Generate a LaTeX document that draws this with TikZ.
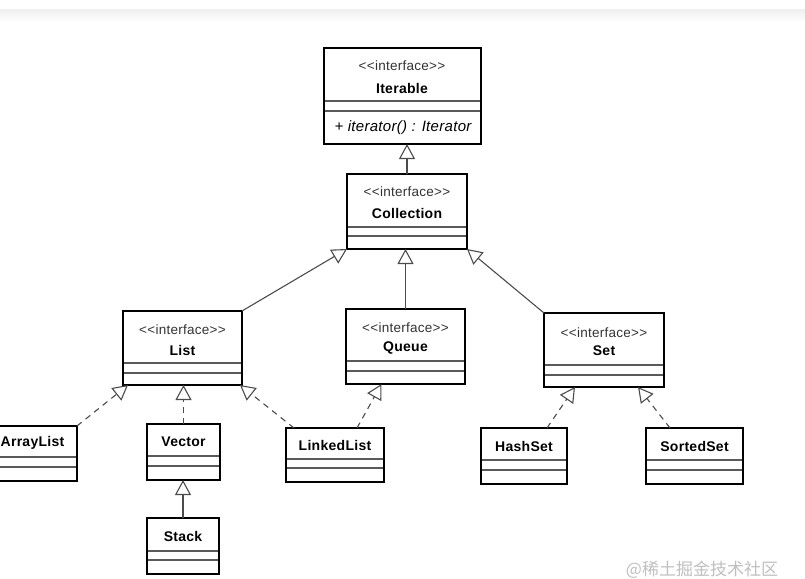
\documentclass[tikz,border=0pt]{standalone}
\usepackage{fontspec}
\setmainfont{Liberation Sans}
\newfontfamily\umlfont[LetterSpace=2]{Liberation Sans}
\newfontfamily\cjkfont{Noto Sans CJK SC}
\usetikzlibrary{arrows.meta}

\newcommand\umlclass[7]{%
  \draw[divline] (#2,#6) -- (#4,#6) (#2,#7) -- (#4,#7);
  \node[classbox, minimum width={#4-#2}, minimum height={#5-#3}] (#1) at ({(#2+#4)/2},{(#3+#5)/2}) {};
}

\begin{document}
\begin{tikzpicture}[x=1pt,y=-1pt,
  classbox/.style={draw=black, line width=2.4pt, inner sep=0pt, outer sep=0pt},
  divline/.style={draw=black!65, line width=1.3pt},
  stereo/.style={inner sep=0pt, text=black!80, font=\umlfont\fontsize{13.5}{15}\selectfont},
  cname/.style={inner sep=0pt, text=black, font=\umlfont\bfseries\fontsize{14}{16}\selectfont},
  method/.style={inner sep=0pt, text=black, font=\umlfont\itshape\fontsize{15}{17}\selectfont},
  gen/.style={draw=black!70, line width=1.1pt, -{Triangle[open, length=15pt, width=16pt, line width=1.1pt]}},
  real/.style={gen, dash pattern=on 6pt off 5pt}
]
\useasboundingbox (0,0) rectangle (805,578);
\clip (0,0) rectangle (805,578);
\fill[white] (0,0) rectangle (805,578);
\shade[top color=black!6, bottom color=white] (0,10) rectangle (805,22);

% classes: name, left, top, right, bottom, divider1, divider2
\umlclass{iter}{324}{48}{481}{144}{101}{111}
\umlclass{coll}{347}{174}{467}{249}{227}{236}
\umlclass{list}{123}{311}{242}{385}{363}{373}
\umlclass{queue}{346}{309}{465}{384}{361}{371}
\umlclass{set}{544}{313}{664}{387}{365}{375}
\umlclass{arr}{-12}{426}{77}{481}{457}{467}
\umlclass{vec}{147}{424}{220}{480}{456}{466}
\umlclass{stack}{147}{518}{219}{574}{551}{560}
\umlclass{ll}{286}{428}{384}{482}{459}{468}
\umlclass{hash}{481}{428}{567}{484}{460}{470}
\umlclass{sorted}{646}{428}{743}{484}{460}{470}

% texts
\node[stereo] (iter-s) at (402,66) {<<interface>>};
\node[cname] (iter-n) at (402,88) {Iterable};
\node[method] (iter-m) at (403,128) {+ iterator() : Iterator};
\node[stereo] (coll-s) at (407,192) {<<interface>>};
\node[cname] (coll-n) at (407,213) {Collection};
\node[stereo] (list-s) at (182.5,330) {<<interface>>};
\node[cname] (list-n) at (182.5,350) {List};
\node[stereo] (queue-s) at (405.5,328) {<<interface>>};
\node[cname] (queue-n) at (405.5,348) {Queue};
\node[stereo] (set-s) at (604,333) {<<interface>>};
\node[cname] (set-n) at (604,351) {Set};
\node[cname] (arr-n) at (32.5,443) {ArrayList};
\node[cname] (vec-n) at (183.5,442) {Vector};
\node[cname] (stack-n) at (183,536) {Stack};
\node[cname] (ll-n) at (335,445) {LinkedList};
\node[cname] (hash-n) at (524,446) {HashSet};
\node[cname] (sorted-n) at (694.5,446) {SortedSet};

% connectors
\draw[gen] (coll.north) -- (coll.north |- iter.south);
\draw[gen] (list.north east) -- (coll.south west);
\draw[gen] (queue.north) -- (queue.north |- coll.south);
\draw[gen] (set.north west) -- (coll.south east);
\draw[real] (arr.north east) -- ([xshift=5pt]list.south west);
\draw[real] (vec.north) -- (vec.north |- list.south);
\draw[real] ([xshift=8pt]ll.north west) -- ([xshift=-2pt]list.south east);
\draw[real] ([xshift=22pt]ll.north) -- ([xshift=-24pt]queue.south);
\draw[real] ([xshift=23pt]hash.north) -- ([xshift=-29pt]set.south);
\draw[real] ([xshift=-24.5pt]sorted.north) -- ([xshift=34pt]set.south);
\draw[gen] (stack.north) -- (stack.north |- vec.south);

% watermark
\node[text=black!25, inner sep=0pt, font=\cjkfont\fontsize{17}{20}\selectfont] (wm) at (702,570) {@稀土掘金技术社区};
\end{tikzpicture}
\end{document}
